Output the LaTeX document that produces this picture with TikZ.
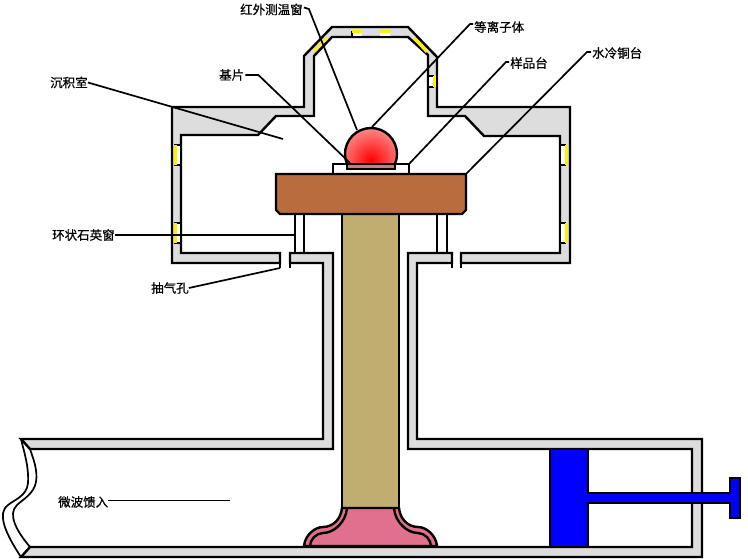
\documentclass[tikz,border=0pt]{standalone}
\usepackage{fontspec}
\setmainfont[FakeBold=0.6]{Noto Sans CJK SC}
\definecolor{wallgray}{HTML}{DDDDDD}
\definecolor{posttan}{HTML}{BFAE70}
\definecolor{stagebrown}{HTML}{B96C3E}
\definecolor{footpink}{HTML}{E0708C}
\begin{document}
\begin{tikzpicture}[x=1pt,y=-1pt,line join=miter,
  wall/.style={draw=black,fill=wallgray,line width=2.4pt},
  edge/.style={draw=black,line width=2.4pt},
  thinedge/.style={draw=black,line width=1.7pt},
  leader/.style={draw=black,line width=1.7pt},
  lab/.style={inner sep=0pt,font=\fontsize{12.5pt}{13pt}\selectfont},
  glass/.style={draw=yellow,line width=3pt},
  gap/.style={fill=white,draw=none}]
\useasboundingbox (0,0) rectangle (748,559);
\fill[white] (0,0) rectangle (748,559);
% chamber wall
\path[wall] (280,263)--(172,263)--(172,107)--(304,107)--(304,56)--(332,27)--(408,27)--(437,57)--(437,107)--(570,107)--(570,263)--(461,263)--(461,253)--(560,253)--(560,136)--(484,136)--(465,116)--(428,116)--(428,55)--(408,37)--(332,37)--(314,56)--(314,116)--(276,116)--(258,135)--(181,135)--(181,253)--(280,253)--cycle;
\path[edge] (280,253)--(280,268);
\path[edge] (461,253)--(461,268);
% lower walls
\path[wall] (290,263)--(323,263)--(323,439)--(21,439)--(30,449)--(333,449)--(333,253)--(290,253)--cycle;
\path[wall] (452,253)--(408,253)--(408,449)--(692,449)--(692,547)--(30,547)--(21,557)--(702,557)--(702,439)--(417,439)--(417,263)--(452,263)--cycle;
\path[edge] (290,253)--(290,268);
\path[edge] (452,253)--(452,268);
% wavy cut of the waveguide
\path[thinedge] (21,439) .. controls (24,452) and (29,466) .. (28,483) .. controls (27,496) and (14,500) .. (8,505) .. controls (2,510) and (2,516) .. (4,524) .. controls (7,535) and (15,548) .. (21,557);
\path[thinedge] (30,449) .. controls (33,458) and (38,470) .. (36,482) .. controls (34,494) and (22,500) .. (17,505) .. controls (12,510) and (12,516) .. (15,524) .. controls (18,532) and (25,541) .. (30,547);
% side windows
\foreach \ya/\yb in {145/165,223/243}{
  \fill[gap] (176,\ya) rectangle (180,\yb);
  \path[edge] (174,\ya)--(181,\ya) (174,\yb)--(181,\yb);
  \path[glass] (175.5,\ya)--(175.5,\yb);
  \fill[gap] (561,\ya) rectangle (566,\yb);
  \path[edge] (560,\ya)--(566,\ya) (560,\yb)--(566,\yb);
  \path[glass] (566.5,\ya)--(566.5,\yb);
}
% top windows
\fill[gap] (353,33) rectangle (362,36);
\fill[gap] (380,33) rectangle (390,36);
\path[edge] (352,31)--(352,37);
\path[glass] (352,31.5)--(362,31.5);
\path[glass] (380,31.5)--(390,31.5);
\fill[gap] (429,76) rectangle (433,87);
\path[edge] (428,76)--(434,76) (428,87)--(434,87);
\path[glass] (434,76)--(434,87);
\path[glass,dash pattern=on 5pt off 2pt] (314,51)--(327,38);
\path[glass] (414,38)--(427,52);
% quartz ring
\path[edge] (295,214)--(295,253) (304,214)--(304,253) (437,214)--(437,253) (447,214)--(447,253);
% post
\path[edge,fill=posttan] (342,210) rectangle (399,508);
% foot
\path[edge,fill=footpink] (342,508) .. controls (341,519) and (333,527) .. (323,527) .. controls (315,527) and (305,535) .. (304,546) -- (437,546) .. controls (436,535) and (426,527) .. (418,527) .. controls (408,527) and (400,519) .. (399,508) -- cycle;
\path[edge] (347,508) .. controls (346,522) and (334,533) .. (323,533) .. controls (316,533) and (310,540) .. (310,546);
\path[edge] (394,508) .. controls (395,522) and (407,533) .. (418,533) .. controls (425,533) and (431,540) .. (431,546);
\path[edge] (342,508)--(399,508);
% bottom band repaint
\path[draw=black,line width=2.4pt] (30,547)--(692,547);
% piston
\path[edge,fill=blue] (550,449)--(588,449)--(588,493)--(730,493)--(730,478)--(740,478)--(740,518)--(730,518)--(730,503)--(588,503)--(588,547)--(550,547)--cycle;
% stage
\path[edge,fill=white] (333,174)--(333,164)--(409,164)--(409,174);
\path[edge,fill=stagebrown] (276,174)--(466,174)--(466,210)--(462,214)--(280,214)--(276,210)--cycle;
% plasma
\begin{scope}
  \clip (347,164) arc[start angle=202.6,end angle=-22.6,radius=26pt] -- cycle;
  \shade[inner color=red,outer color=red!40!white] (371,160) circle[radius=36pt];
\end{scope}
\path[edge] (347,164) arc[start angle=202.6,end angle=-22.6,radius=26pt];
\path[draw=black,line width=1.8pt,fill=gray!50!red!70!white] (347,164) rectangle (395,169);
% labels
\node[lab,anchor=west] (hw) at (240,9.5) {红外测温窗};
\node[lab,anchor=west] (dl) at (474,27) {等离子体};
\node[lab,anchor=west] (yp) at (510,63) {样品台};
\node[lab,anchor=west] (sl) at (592,53) {水冷铜台};
\node[lab,anchor=west] (jp) at (219,75) {基片};
\node[lab,anchor=west] (cj) at (50,82.5) {沉积室};
\node[lab,anchor=west] (hz) at (52,235) {环状石英窗};
\node[lab,anchor=west] (cq) at (151,288) {抽气孔};
\node[lab,anchor=west] (wb) at (58,502) {微波馈入};
% leaders
\coordinate (hwend) at (357,130);
\coordinate (dlend) at (372,127);
\coordinate (ypend) at (409,164);
\coordinate (slend) at (466,174);
\coordinate (jpend) at (350,163);
\coordinate (cjend) at (283,139);
\coordinate (hzend) at (296,234);
\coordinate (cqend) at (280,268);
\coordinate (wbend) at (230,500.5);
\draw[leader] (hw.east)++(1,-2) -- ++(5,1.5) -- (hwend);
\draw[leader] (dl.west)++(-1,-3) -- ++(-3,0) -- (dlend);
\draw[leader] (yp.west)++(-1,-1) -- ++(-3,0) -- (ypend);
\draw[leader] (sl.west)++(-1,-1) -- ++(-4,0) -- (slend);
\draw[leader] (jp.east)++(1,0) -- ++(13,0) -- (jpend);
\draw[leader] (cj.east) -- (cjend);
\draw[leader] (hz.east) -- (hzend |- hz.east);
\draw[leader] (cq.east) -- (cqend);
\draw[leader] (wb.east)++(0,-1.5) -- (wbend);
\end{tikzpicture}
\end{document}
